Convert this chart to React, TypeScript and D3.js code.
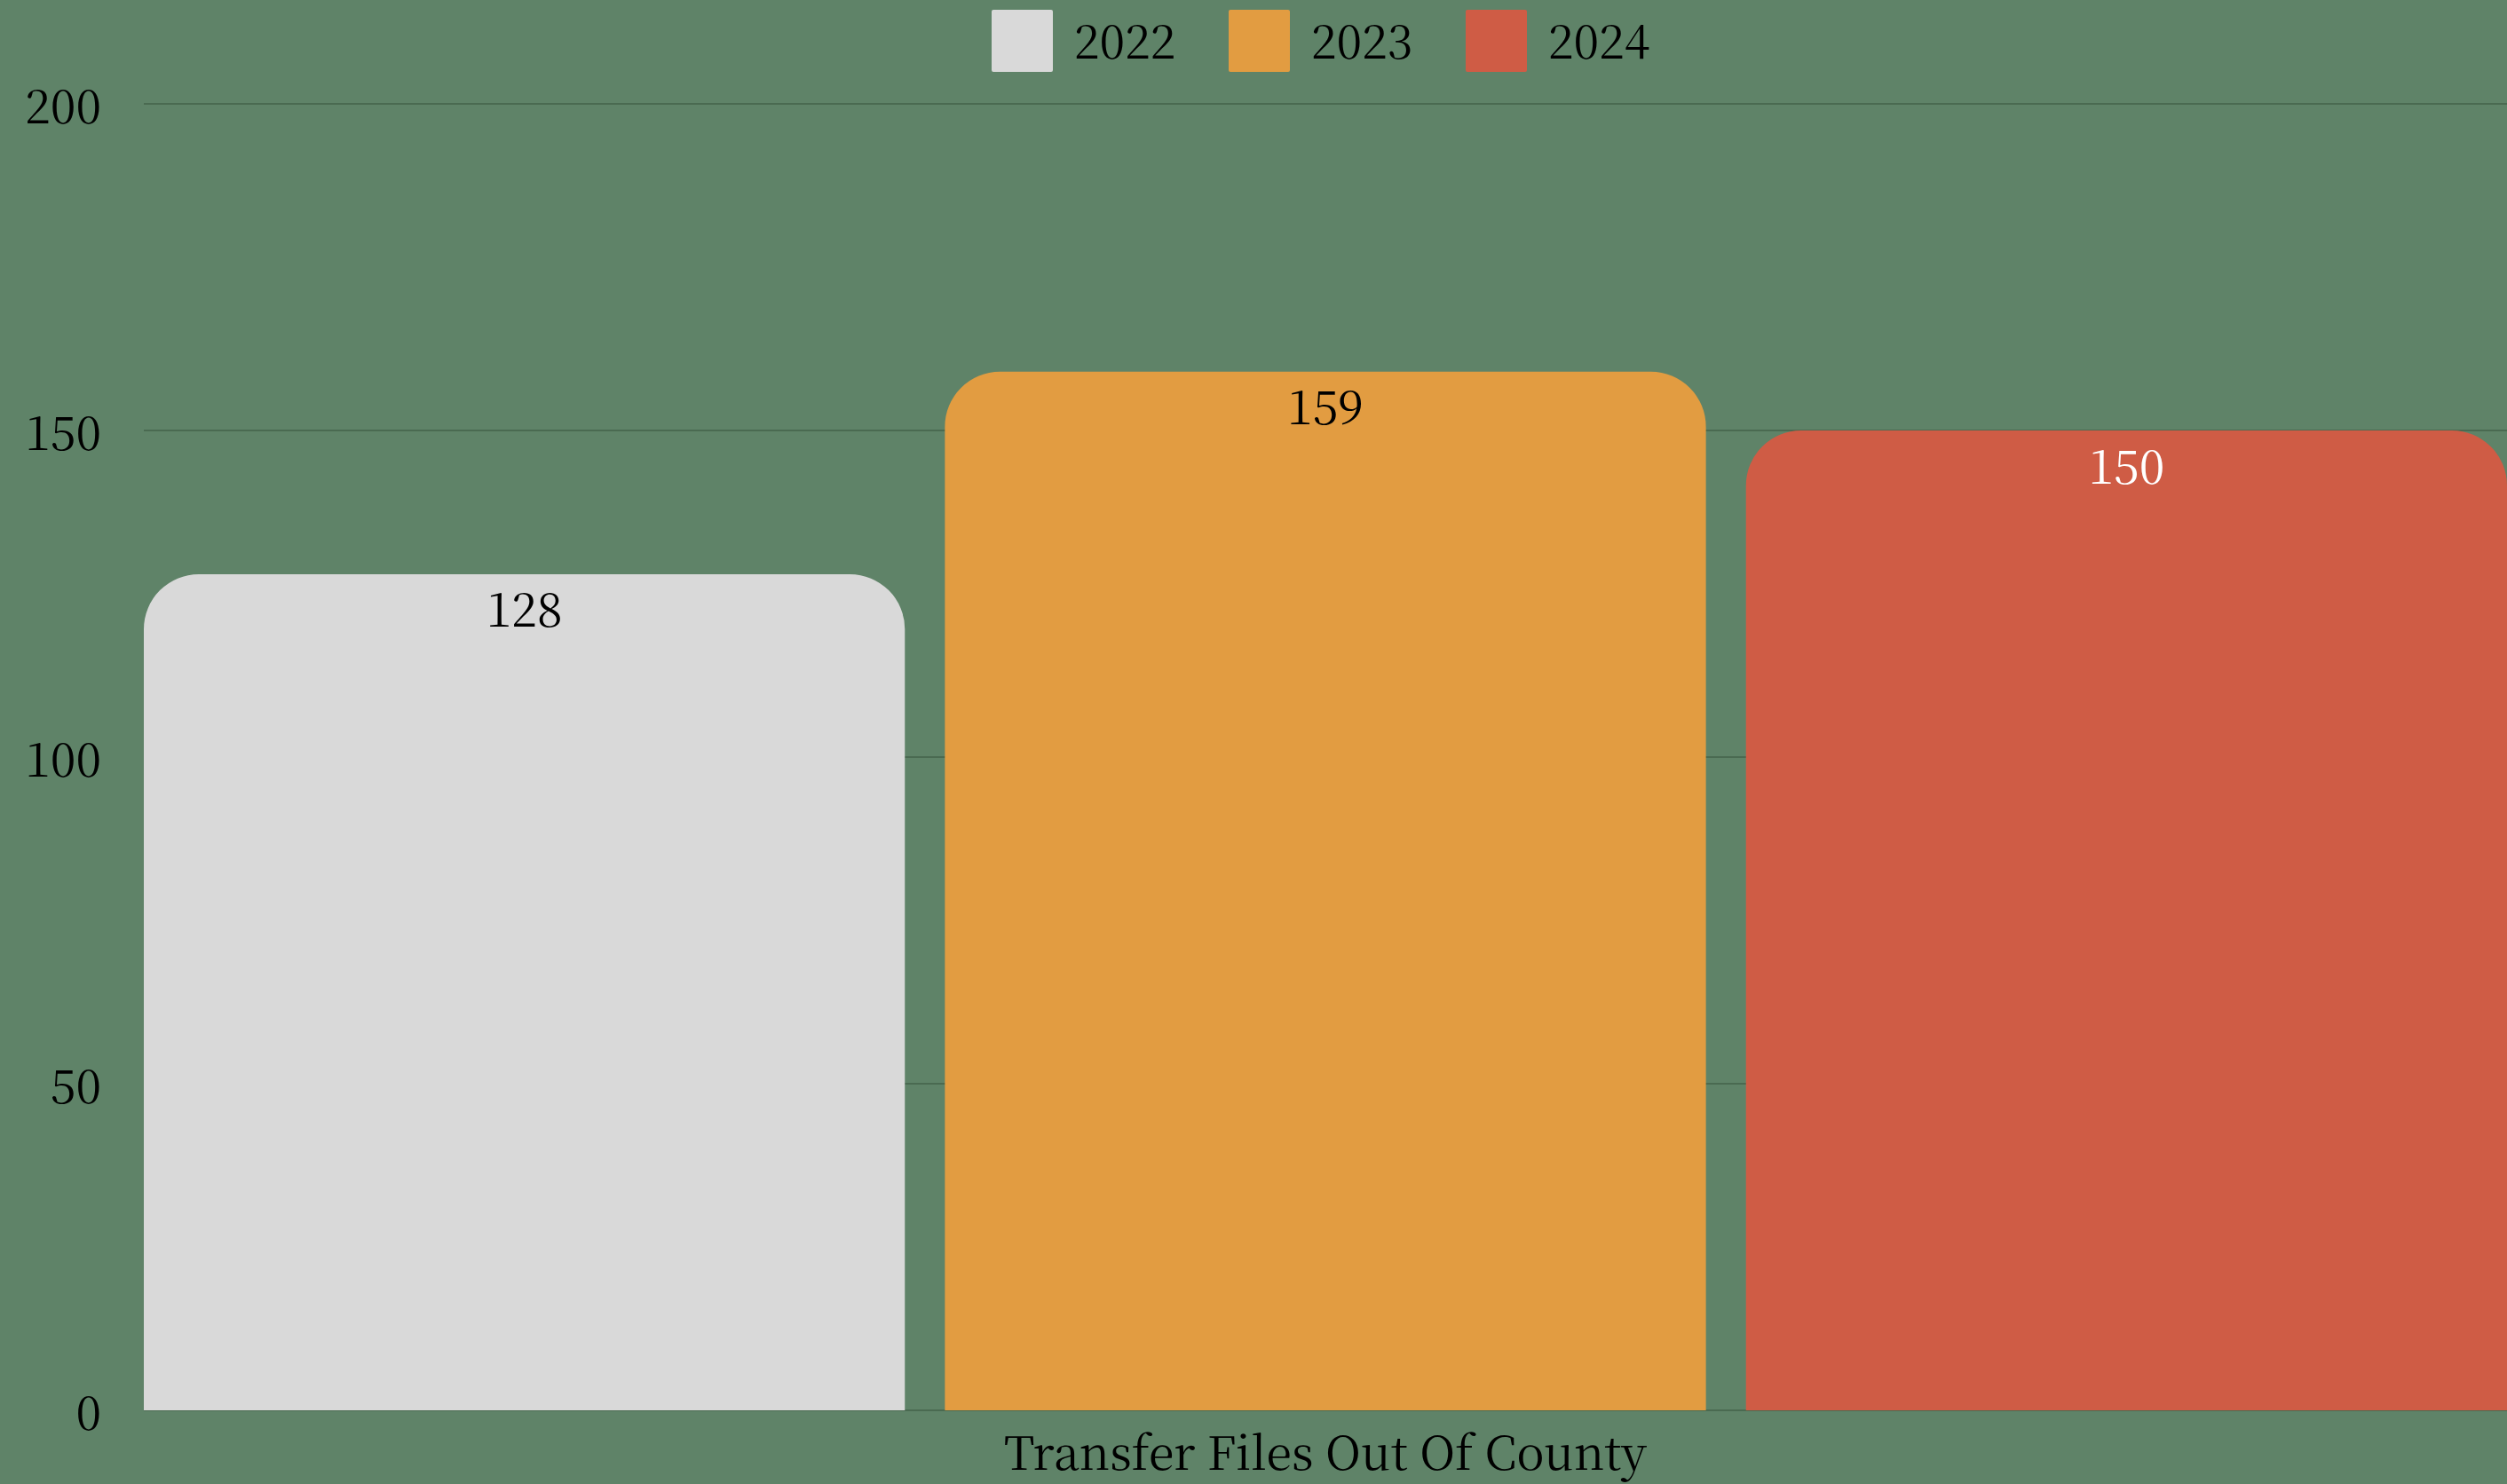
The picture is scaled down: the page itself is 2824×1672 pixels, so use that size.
import React from "react";
import * as d3 from "d3";

const categories = ["Transfer Files Out Of County"];
const seriesNames = ["2022", "2023", "2024"];
const seriesValues = [128, 159, 150];
const seriesColors = ["#d9d9d9", "#e29c41", "#cf5c45"];
const labelColors = ["#000000", "#000000", "#ffffff"];
const yTicks = [0, 50, 100, 150, 200];

const W = 2824;
const H = 1672;
const FONT = "'Noto Serif CJK SC', serif";

function topRoundedRect(x: number, y: number, w: number, h: number, r: number) {
  const rr = Math.min(r, w / 2, h);
  return `M${x},${y + h}V${y + rr}A${rr},${rr} 0 0 1 ${x + rr},${y}H${x + w - rr}A${rr},${rr} 0 0 1 ${x + w},${y + rr}V${y + h}Z`;
}

export default function App() {
  React.useEffect(() => {
    document.body.style.margin = "0";
  }, []);

  const left = 162;
  const right = 2824;
  const top = 117;
  const bottom = 1589;

  const y = d3.scaleLinear().domain([0, 200]).range([bottom, top]);
  const x0 = d3.scaleBand().domain(categories).range([left, right]).padding(0);
  const x1 = d3
    .scaleBand()
    .domain(seriesNames)
    .range([0, x0.bandwidth()])
    .paddingInner(0.05)
    .paddingOuter(0);

  const legendStart = 1117;
  const legendStep = 267;

  return (
    <svg
      width={W}
      height={H}
      style={{
        display: "block",
        background: "#5f8368",
        fontFamily: FONT,
        fontVariantNumeric: "slashed-zero",
      }}
    >
      <rect x={0} y={0} width={W} height={H} fill="#5f8368" />
      {yTicks.map((t) => (
        <g key={t}>
          <line x1={left} x2={right} y1={y(t)} y2={y(t)} stroke="#4a6a51" strokeWidth={2} />
          <text x={114} y={y(t) - 1} textAnchor="end" dominantBaseline="central" fontSize={52} fill="#000">
            {t}
          </text>
        </g>
      ))}
      {categories.map((c) => (
        <g key={c} transform={`translate(${x0(c)},0)`}>
          {seriesNames.map((s, i) => {
            const bx = x1(s)!;
            const bw = x1.bandwidth();
            const by = y(seriesValues[i]);
            return (
              <g key={s}>
                <path d={topRoundedRect(bx, by, bw, bottom - by, 62)} fill={seriesColors[i]} />
                <text x={bx + bw / 2} y={by + 37} textAnchor="middle" dominantBaseline="central" fontSize={52} fill={labelColors[i]}>
                  {seriesValues[i]}
                </text>
              </g>
            );
          })}
          <text x={x0.bandwidth() / 2} y={1656} textAnchor="middle" fontSize={52} fill="#000">
            {c}
          </text>
        </g>
      ))}
      {seriesNames.map((s, i) => (
        <g key={s} transform={`translate(${legendStart + i * legendStep},11)`}>
          <rect x={0} y={0} width={69} height={70} rx={2} fill={seriesColors[i]} />
          <text x={93} y={32} dominantBaseline="central" fontSize={52} fill="#000">
            {s}
          </text>
        </g>
      ))}
    </svg>
  );
}
